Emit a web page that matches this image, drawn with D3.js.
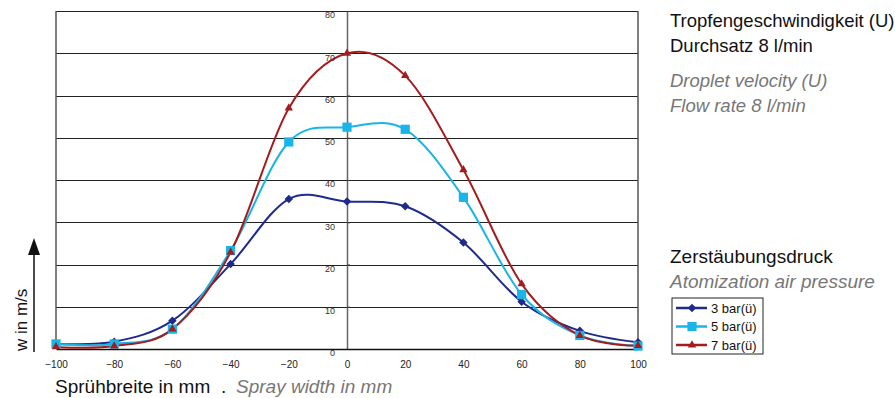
<!DOCTYPE html>
<html>
<head>
<meta charset="utf-8">
<script src="https://cdn.jsdelivr.net/npm/d3@7"></script>
<style>
  body { margin: 0; background: #fff; }
  svg { display: block; }
</style>
</head>
<body>
<div id="chart"></div>
<script>
// spray width positions (mm)
const positions = [-100, -80, -60, -40, -20, 0, 20, 40, 60, 80, 100];
const yTicks = [0, 10, 20, 30, 40, 50, 60, 70, 80];

// droplet velocity in m/s per atomization pressure
const bar3 = [1.2, 1.7, 6.7, 20.1, 35.5, 34.9, 33.8, 25.2, 11.2, 4.3, 1.6];
const bar5 = [1.2, 1.2, 4.7, 23.3, 49.0, 52.5, 52.0, 35.9, 12.9, 3.2, 0.7];
const bar7 = [0.5, 0.7, 4.7, 22.9, 57.0, 70.0, 64.7, 42.4, 15.4, 3.2, 0.8];

const seriesNames = ['3 bar(ü)', '5 bar(ü)', '7 bar(ü)'];
const seriesColors = ['#1f2b8c', '#19b5e8', '#a51c1e'];
const seriesShapes = [d3.symbolDiamond2, d3.symbolSquare, d3.symbolTriangle];
const seriesSizes = [46, 85, 30];

const series = [bar3, bar5, bar7].map((vals, i) => ({
  name: seriesNames[i],
  color: seriesColors[i],
  shape: seriesShapes[i],
  size: seriesSizes[i],
  points: vals.map((v, j) => ({ x: positions[j], y: v }))
}));

const W = 895, H = 398;
const plot = { left: 56, right: 638, top: 11, bottom: 349 };
const font = '"Liberation Sans", Arial, sans-serif';

const svg = d3.select('#chart').append('svg')
  .attr('width', W).attr('height', H);

const x = d3.scaleLinear().domain([-100, 100]).range([plot.left, plot.right]);
const y = d3.scaleLinear().domain([0, 80]).range([plot.bottom, plot.top]);

// horizontal grid
svg.append('g')
  .attr('transform', `translate(${plot.left},0)`)
  .call(d3.axisLeft(y).tickValues(yTicks.slice(1)).tickSize(-(plot.right - plot.left)).tickFormat(''))
  .call(g => g.select('.domain').remove())
  .call(g => g.selectAll('line').attr('stroke', '#222').attr('stroke-width', 1).attr('shape-rendering', 'crispEdges'));

// frame: left and right borders
[plot.left, plot.right].forEach(px => {
  svg.append('line')
    .attr('x1', px).attr('x2', px)
    .attr('y1', plot.top).attr('y2', plot.bottom)
    .attr('stroke', '#555').attr('stroke-width', 1.5);
});

// y axis at x = 0
svg.append('g')
  .attr('transform', `translate(${x(0)},0)`)
  .call(d3.axisLeft(y).tickValues(yTicks).tickSizeInner(-3).tickSizeOuter(0).tickPadding(12))
  .call(g => g.select('.domain').attr('stroke', '#666').attr('stroke-width', 1.5))
  .call(g => g.selectAll('.tick line').attr('stroke', '#333'))
  .call(g => g.selectAll('.tick text')
    .attr('transform', 'translate(0,4)')
    .attr('fill', '#333')
    .style('font-family', font)
    .style('font-size', '9px'));

// x axis at y = 0
svg.append('g')
  .attr('transform', `translate(0,${y(0)})`)
  .call(d3.axisBottom(x).tickValues(positions).tickSizeInner(0).tickSizeOuter(0).tickPadding(12))
  .call(g => g.select('.domain').attr('stroke', '#111').attr('stroke-width', 1.5))
  .call(g => g.selectAll('.tick text')
    .attr('fill', '#222')
    .style('font-family', font)
    .style('font-size', '10px'));

// curves
const line = d3.line()
  .x(d => x(d.x))
  .y(d => y(d.y))
  .curve(d3.curveCardinal.tension(0));

svg.append('g').selectAll('path')
  .data(series)
  .join('path')
  .attr('d', d => line(d.points))
  .attr('fill', 'none')
  .attr('stroke', d => d.color)
  .attr('stroke-width', 2);

// markers
series.forEach(s => {
  svg.append('g').selectAll('path')
    .data(s.points)
    .join('path')
    .attr('transform', d => `translate(${x(d.x)},${y(d.y)})`)
    .attr('d', d3.symbol().type(s.shape).size(s.size))
    .attr('fill', s.color);
});

// axis titles
svg.append('text')
  .attr('x', 55).attr('y', 393)
  .attr('fill', '#111')
  .style('font-family', font).style('font-size', '19px')
  .text('Sprühbreite in mm');
svg.append('text')
  .attr('x', 221).attr('y', 393)
  .attr('fill', '#111')
  .style('font-family', font).style('font-size', '19px')
  .text('.');
svg.append('text')
  .attr('x', 236).attr('y', 393)
  .attr('fill', '#777')
  .style('font-style', 'italic')
  .style('font-family', font).style('font-size', '19px')
  .text('Spray width in mm');

svg.append('text')
  .attr('transform', 'translate(27,351) rotate(-90)')
  .attr('fill', '#111')
  .style('font-family', font).style('font-size', '17px')
  .text('w in m/s');

// arrow next to y title
svg.append('line')
  .attr('x1', 34).attr('x2', 34)
  .attr('y1', 352).attr('y2', 250)
  .attr('stroke', '#111').attr('stroke-width', 1.5);
svg.append('path')
  .attr('d', 'M34,238 L28,255 L40,255 Z')
  .attr('fill', '#111');

// right-hand descriptions
const notes = [
  { t: 'Tropfengeschwindigkeit (U)', y: 27, it: false, fs: 18.5 },
  { t: 'Durchsatz 8 l/min', y: 52, it: false, fs: 18.5 },
  { t: 'Droplet velocity (U)', y: 87, it: true, fs: 18.5 },
  { t: 'Flow rate 8 l/min', y: 112, it: true, fs: 18.5 },
  { t: 'Zerstäubungsdruck', y: 263, it: false, fs: 19 },
  { t: 'Atomization air pressure', y: 288, it: true, fs: 19 }
];
svg.append('g').selectAll('text')
  .data(notes)
  .join('text')
  .attr('x', 670).attr('y', d => d.y)
  .attr('fill', d => d.it ? '#777' : '#111')
  .style('font-style', d => d.it ? 'italic' : 'normal')
  .style('font-family', font).style('font-size', d => d.fs + 'px')
  .text(d => d.t);

// legend
const legend = svg.append('g').attr('transform', 'translate(672,298)');
legend.append('rect')
  .attr('width', 91).attr('height', 56)
  .attr('fill', '#fff').attr('stroke', '#222').attr('stroke-width', 1);
const item = legend.selectAll('g.item')
  .data(series)
  .join('g')
  .attr('class', 'item')
  .attr('transform', (d, i) => `translate(0,${10 + i * 18.5})`);
item.append('line')
  .attr('x1', 4).attr('x2', 35)
  .attr('stroke', d => d.color).attr('stroke-width', 2.5);
item.append('path')
  .attr('transform', 'translate(20,0)')
  .attr('d', d => d3.symbol().type(d.shape).size(d.size)())
  .attr('fill', d => d.color);
item.append('text')
  .attr('x', 39).attr('dy', '0.35em')
  .attr('fill', '#111')
  .style('font-family', font).style('font-size', '13px')
  .text(d => d.name);
</script>
</body>
</html>
